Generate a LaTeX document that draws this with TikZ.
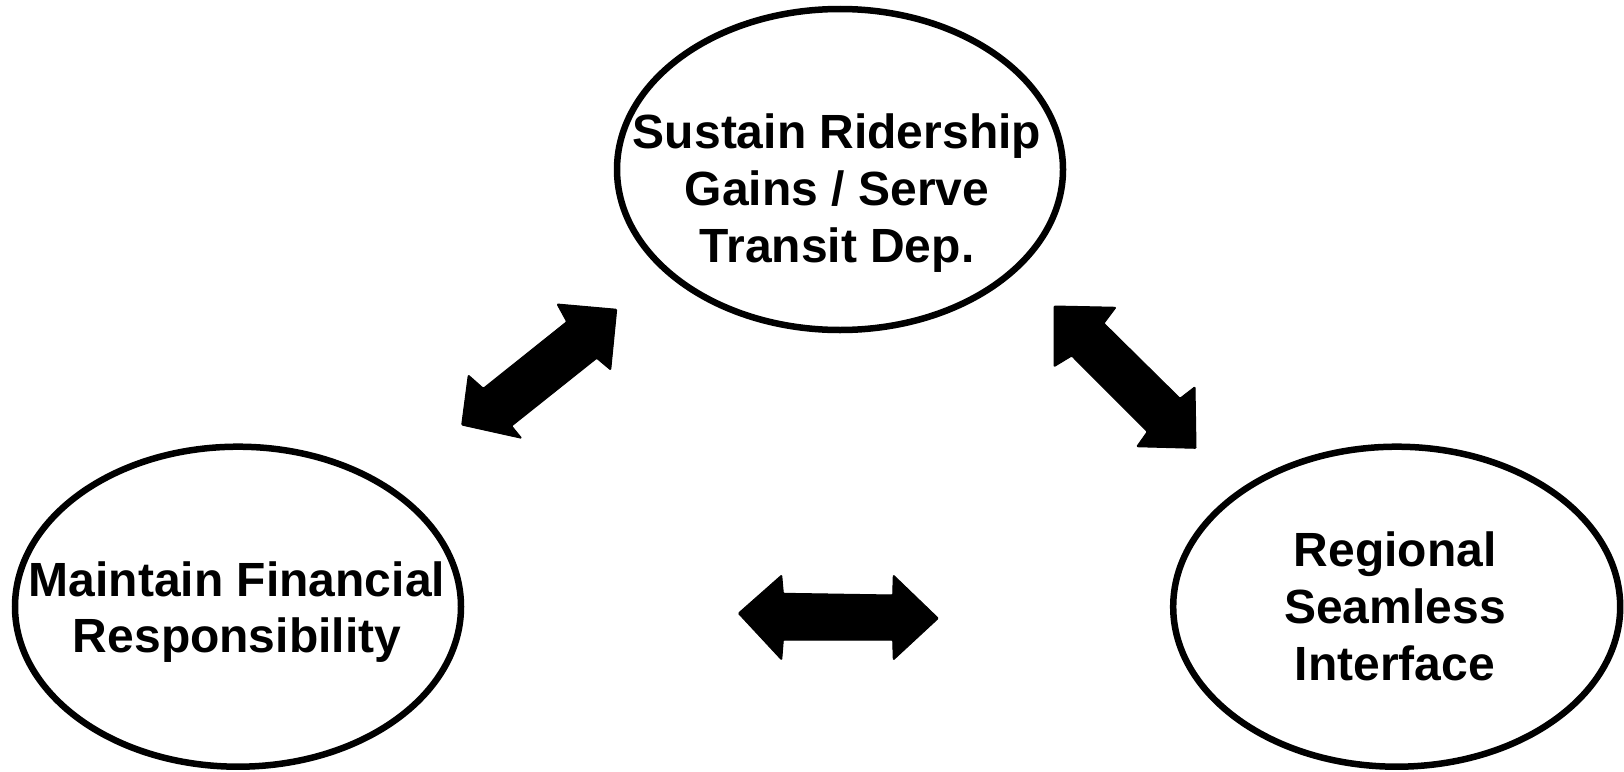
\documentclass[tikz,border=0pt]{standalone}
\usepackage{fontspec}
\setmainfont{Liberation Sans}
\usetikzlibrary{shapes.geometric}
\tikzset{
  goal/.style={draw=black, line width=6.5pt, ellipse, inner sep=0pt, fill=white},
  goaltext/.style={align=center, inner sep=0pt, font=\fontsize{48}{56.7}\selectfont\bfseries},
  blockarrow/.style={fill=black, draw=black, line width=1pt, line join=round, rounded corners=1pt}
}
\begin{document}
\begin{tikzpicture}[x=1pt,y=-1pt]
\fill[white] (0,0) rectangle (1624,771);
\useasboundingbox (0,0) rectangle (1624,771);
% ellipses
\node[goal, minimum width=446pt, minimum height=321pt] (top) at (840,169.5) {};
\node[goal, minimum width=446pt, minimum height=320pt] (left) at (238,606.7) {};
\node[goal, minimum width=447pt, minimum height=320pt] (right) at (1396.7,606.7) {};
% texts
\node[goaltext] (toptext) at (837,193) {Sustain Ridership\\Gains / Serve\\Transit Dep.};
\node[goaltext] (lefttext) at (237,612) {Maintain Financial\\Responsibility};
\node[goaltext] (righttext) at (1395,606.5) {Regional\\Seamless\\Interface};
% block arrows
\filldraw[blockarrow] (557,304) -- (616.7,309.3) -- (610.7,370) -- (596.7,358.3)
  -- (511.7,426) -- (521.7,438.3) -- (461.7,425) -- (468.3,375) -- (483.3,388.3)
  -- (566.7,321.7) -- cycle;
\filldraw[blockarrow] (1054,306) -- (1116,307.3) -- (1104,323.3) -- (1180,398.3)
  -- (1195,386.7) -- (1196,448.3) -- (1136.7,446.7) -- (1147.3,431.7)
  -- (1071.7,356) -- (1054,366.7) -- cycle;
\filldraw[blockarrow] (738.3,613.3) -- (781.7,575) -- (783.3,593.3) -- (892.7,595)
  -- (893.3,575) -- (938.3,618.3) -- (893.3,660) -- (892.7,640) -- (783.3,640)
  -- (781.7,660) -- cycle;
\end{tikzpicture}
\end{document}
